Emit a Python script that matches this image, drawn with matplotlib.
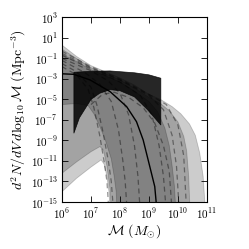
import matplotlib
matplotlib.use('Agg')
import matplotlib.pyplot as plt
import numpy as np
from matplotlib.ticker import FixedLocator, FuncFormatter, LogLocator, NullLocator

plt.rcParams['mathtext.fontset'] = 'cm'

# log10 chirp mass / log10 density
u1_x = [6.0, 6.5, 7.0, 7.5, 8.0, 8.5, 9.0, 9.4, 9.8, 10.1, 10.4, 10.6, 10.75, 10.87, 10.95]
u1_y = [0.3, -0.8, -1.7, -2.3, -2.9, -3.6, -4.5, -5.0, -5.7, -6.4, -7.4, -8.5, -10.2, -12.5, -16.0]
l1_x = [6.0, 6.5, 7.0, 7.35, 7.45, 7.55, 7.62, 7.66]
l1_y = [-14.0, -12.7, -11.6, -10.9, -11.3, -12.5, -14.0, -16.0]

u2_x = [6.0, 6.5, 7.0, 7.5, 8.0, 8.5, 9.0, 9.4, 9.7, 10.0, 10.2, 10.3, 10.37, 10.42]
u2_y = [-0.1, -1.0, -1.9, -2.5, -3.1, -3.9, -4.8, -5.4, -6.1, -7.2, -8.6, -10.0, -12.5, -16.0]
l2_x = [6.0, 6.5, 7.0, 7.31, 7.43, 7.55, 7.66, 7.7]
l2_y = [-12.2, -11.1, -10.1, -9.6, -9.95, -11.5, -13.8, -16.0]

u3_x = [6.0, 6.5, 7.0, 7.5, 8.0, 8.5, 9.0, 9.3, 9.55, 9.7, 9.8, 9.88, 9.93]
u3_y = [-0.6, -1.3, -2.1, -2.7, -3.3, -4.2, -5.2, -6.2, -7.8, -9.5, -11.5, -13.5, -16.0]
l3_x = [6.0, 6.5, 6.9, 7.1, 7.3, 7.5, 7.7, 7.8, 7.87, 7.9]
l3_y = [-5.5, -5.4, -5.6, -6.4, -7.6, -9.0, -10.8, -12.5, -14.0, -16.0]

# observed region
obs_top_x = [6.41, 7.0, 7.66, 8.5, 9.0, 9.41]
obs_top_y = [-2.35, -2.25, -2.22, -2.4, -2.6, -2.93]
obs_bot_x = [6.41, 6.6, 6.8, 7.0, 7.3, 7.66, 8.0, 8.5, 8.95, 9.41]
obs_bot_y = [-8.3, -6.8, -5.9, -5.0, -4.4, -4.05, -4.15, -4.75, -6.0, -7.5]

# median model
med_x = [6.0, 6.41, 6.97, 7.66, 8.23, 8.57, 8.8, 9.03, 9.2, 9.28]
med_y = [-2.5, -2.55, -3.1, -4.24, -5.7, -7.17, -8.95, -11.56, -13.5, -16.0]

dashed = [
    ([6.0, 6.5, 6.9, 7.1, 7.3, 7.45, 7.55, 7.62], [-1.8, -2.6, -4.0, -5.8, -8.5, -11.0, -13.0, -16.0]),
    ([6.0, 6.5, 7.0, 7.2, 7.4, 7.6, 7.7, 7.78], [-1.5, -2.3, -3.8, -5.5, -8.0, -11.0, -13.0, -16.0]),
    ([6.0, 6.8, 7.3, 7.7, 7.95, 8.1, 8.18, 8.25], [-1.2, -2.4, -3.5, -5.2, -8.0, -11.0, -13.0, -16.0]),
    ([6.0, 7.0, 7.6, 8.0, 8.3, 8.5, 8.62, 8.7], [-1.0, -2.2, -3.2, -4.4, -6.5, -9.5, -12.5, -16.0]),
    ([6.0, 7.0, 8.0, 8.7, 9.1, 9.35, 9.5, 9.6], [-0.7, -2.0, -3.3, -4.6, -6.5, -9.5, -12.5, -16.0]),
    ([6.0, 7.0, 8.0, 9.0, 9.5, 9.8, 9.95, 10.05], [-0.5, -1.9, -3.1, -4.6, -6.0, -8.5, -11.5, -16.0]),
    ([6.0, 7.0, 8.0, 9.0, 9.6, 10.0, 10.2, 10.3], [-0.3, -1.8, -3.0, -4.5, -5.5, -7.5, -10.5, -16.0]),
    ([7.0, 7.4, 7.8, 8.3, 8.8, 9.2, 9.5, 9.7, 9.8], [-5.5, -4.5, -4.3, -4.8, -5.8, -7.3, -9.5, -12.0, -16.0]),
]

fig = plt.figure(figsize=(2.49, 2.49), dpi=100)
ax = fig.add_axes([0.249, 0.189, 0.582, 0.741])


def band(ux, uy, lx, ly):
    xs = np.concatenate([ux, lx[::-1]])
    ys = np.concatenate([uy, ly[::-1]])
    return 10 ** xs, 10 ** ys


for ux, uy, lx, ly in [(u1_x, u1_y, l1_x, l1_y), (u2_x, u2_y, l2_x, l2_y), (u3_x, u3_y, l3_x, l3_y)]:
    bx, by = band(np.array(ux), np.array(uy), np.array(lx), np.array(ly))
    ax.fill(bx, by, color='k', alpha=0.2, lw=0.6, ec=(0, 0, 0, 0.25))

for dx, dy in dashed:
    ax.plot(10 ** np.array(dx), 10 ** np.array(dy), color='k', alpha=0.4, ls=(0, (4, 3)), lw=0.9)

ax.plot(10 ** np.array(med_x), 10 ** np.array(med_y), color='k', lw=1.0)

ox = np.concatenate([obs_top_x, obs_bot_x[::-1]])
oy = np.concatenate([obs_top_y, obs_bot_y[::-1]])
ax.fill(10 ** ox, 10 ** oy, color='k', alpha=0.85, lw=0.5)

ax.set_xscale('log')
ax.set_yscale('log')
ax.set_xlim(1e6, 1e11)
ax.set_ylim(1e-15, 1e3)

ax.xaxis.set_major_locator(FixedLocator(10.0 ** np.arange(6, 12)))
ax.xaxis.set_minor_locator(LogLocator(base=10, subs=np.arange(2, 10)))
ax.yaxis.set_major_locator(FixedLocator(10.0 ** np.arange(-15, 4, 2)))
ax.yaxis.set_minor_locator(NullLocator())
fmt = FuncFormatter(lambda v, p: r'$10^{%d}$' % int(round(np.log10(v))))
ax.xaxis.set_major_formatter(fmt)
ax.yaxis.set_major_formatter(fmt)
ax.tick_params(which='both', direction='in', top=True, right=True, labelsize=8, width=0.6)
ax.tick_params(which='major', length=4, pad=3)
ax.tick_params(which='minor', length=2)
for s in ax.spines.values():
    s.set_linewidth(0.8)

ax.set_xlabel(r'$\mathcal{M}\ (M_{\odot})$', fontsize=10, labelpad=1)
ax.set_ylabel(r'$d^2N/dV\,d\log_{10}\mathcal{M}\ ({\rm Mpc}^{-3})$', fontsize=10, labelpad=2)

fig.savefig('out.png', dpi=100)
